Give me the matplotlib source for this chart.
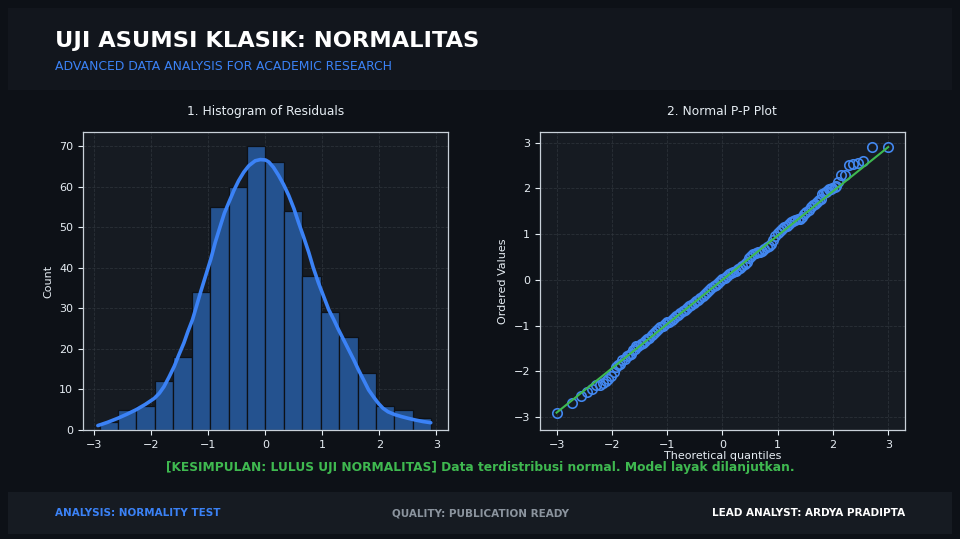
import numpy as np
import matplotlib

matplotlib.use("Agg")
import matplotlib.pyplot as plt
from matplotlib.patches import Rectangle

# histogram of residuals (counts per bin)
hist_counts = [2, 5, 6, 12, 18, 34, 55, 60, 70, 66, 54, 38, 29, 23, 14, 6, 5, 3]
resid_min = -2.91
resid_max = 2.91

# KDE curve (x, count scale)
kde_x = [-2.94, -2.77, -2.59, -2.43, -2.27, -2.11, -1.95, -1.86, -1.78, -1.69, -1.60,
         -1.52, -1.43, -1.36, -1.28, -1.20, -1.14, -1.05, -0.96, -0.88, -0.79, -0.72,
         -0.64, -0.55, -0.47, -0.38, -0.29, -0.18, -0.09, 0.00, 0.06, 0.14, 0.23, 0.32,
         0.41, 0.50, 0.58, 0.67, 0.76, 0.84, 0.93, 1.02, 1.11, 1.20, 1.28, 1.37, 1.46,
         1.55, 1.63, 1.72, 1.81, 1.90, 1.98, 2.06, 2.15, 2.27, 2.39, 2.50, 2.62, 2.76, 2.90]
kde_y = [1.1, 1.9, 2.9, 3.9, 5.0, 6.3, 7.8, 9.1, 10.7, 13.1, 15.7,
         18.5, 21.5, 24.3, 27.2, 31.0, 33.9, 38.0, 42.1, 46.3, 50.4, 53.5,
         56.2, 59.2, 61.5, 63.6, 65.2, 66.4, 66.7, 66.6, 66.1, 64.8, 62.8, 60.5,
         57.8, 54.6, 51.2, 47.6, 43.8, 40.0, 36.3, 33.0, 29.7, 27.2, 24.8, 22.3, 19.8,
         17.3, 14.9, 12.4, 9.9, 8.1, 6.6, 5.4, 4.5, 3.8, 3.3, 2.9, 2.5, 2.1, 1.8]

# probability plot points: theoretical quantiles vs ordered residuals
pp_theoretical = [
    -3.00, -2.72, -2.56, -2.45, -2.36, -2.29, -2.22, -2.16, -2.11, -2.07, -2.02, -1.97,
    -1.93, -1.89, -1.85, -1.81, -1.77, -1.73, -1.69, -1.66, -1.62, -1.59, -1.56, -1.53,
    -1.48, -1.44, -1.40, -1.36, -1.32, -1.28, -1.24, -1.20, -1.16, -1.12, -1.08, -1.04,
    -1.00, -0.96, -0.92, -0.88, -0.84, -0.80, -0.76, -0.72, -0.68, -0.64, -0.60, -0.56,
    -0.52, -0.48, -0.44, -0.40, -0.36, -0.32, -0.28, -0.24, -0.20, -0.16, -0.12, -0.08,
    -0.04, 0.00, 0.04, 0.08, 0.12, 0.16, 0.20, 0.24, 0.28, 0.32, 0.36, 0.40,
    0.44, 0.48, 0.52, 0.56, 0.60, 0.64, 0.68, 0.72, 0.76, 0.80, 0.84, 0.88,
    0.92, 0.96, 1.00, 1.04, 1.08, 1.12, 1.16, 1.20, 1.24, 1.28, 1.32, 1.36,
    1.40, 1.44, 1.48, 1.52, 1.56, 1.60, 1.64, 1.68, 1.72, 1.75, 1.78, 1.81,
    1.84, 1.87, 1.90, 1.93, 1.96, 1.99, 2.03, 2.06, 2.10, 2.15, 2.22, 2.29,
    2.37, 2.45, 2.55, 2.71, 3.00,
]
pp_ordered = [
    -2.90, -2.68, -2.54, -2.44, -2.39, -2.29, -2.30, -2.26, -2.22, -2.17, -2.10, -2.02,
    -1.90, -1.87, -1.83, -1.76, -1.72, -1.66, -1.64, -1.62, -1.53, -1.50, -1.45, -1.45,
    -1.41, -1.37, -1.33, -1.30, -1.26, -1.20, -1.16, -1.12, -1.08, -1.04, -1.00, -0.97,
    -0.93, -0.92, -0.88, -0.84, -0.80, -0.76, -0.72, -0.69, -0.65, -0.61, -0.58, -0.54,
    -0.50, -0.46, -0.43, -0.39, -0.35, -0.31, -0.27, -0.23, -0.18, -0.14, -0.11, -0.07,
    -0.03, 0.01, 0.05, 0.09, 0.13, 0.16, 0.17, 0.19, 0.23, 0.27, 0.31, 0.35,
    0.40, 0.48, 0.52, 0.56, 0.59, 0.61, 0.61, 0.64, 0.68, 0.71, 0.75, 0.79,
    0.86, 0.95, 1.03, 1.07, 1.11, 1.15, 1.18, 1.22, 1.26, 1.29, 1.31, 1.32,
    1.34, 1.37, 1.44, 1.48, 1.53, 1.59, 1.63, 1.66, 1.70, 1.74, 1.77, 1.87,
    1.89, 1.92, 1.95, 1.98, 1.99, 2.00, 2.02, 2.05, 2.14, 2.28, 2.30, 2.50,
    2.53, 2.56, 2.59, 2.91, 2.90,
]
fit_slope = 0.967
fit_intercept = 0.0

BG = "#0d1117"
PANEL = "#161b22"
BAND = "#12161d"
BLUE = "#3b82f6"
GREEN = "#3fb950"
TEXT = "#e6edf3"
GRID = "#30363d"

fig = plt.figure(figsize=(9.6, 5.39), dpi=100, facecolor=BG)

# header and footer bands
fig.add_artist(Rectangle((0.0083, 0.833), 0.983, 0.152, transform=fig.transFigure,
                         facecolor=BAND, edgecolor="none", zorder=0))
fig.add_artist(Rectangle((0.0083, 0.0093), 0.983, 0.078, transform=fig.transFigure,
                         facecolor=PANEL, edgecolor="none", zorder=0))

fig.text(0.0573, 0.924, "UJI ASUMSI KLASIK: NORMALITAS", color="white", fontsize=16.2,
         fontweight="bold", va="center", ha="left")
fig.text(0.0573, 0.876, "ADVANCED DATA ANALYSIS FOR ACADEMIC RESEARCH", color=BLUE,
         fontsize=8.9, va="center", ha="left")


def style_axes(ax):
    ax.set_facecolor(PANEL)
    for spine in ax.spines.values():
        spine.set_color("#c9d1d9")
        spine.set_linewidth(0.9)
    ax.tick_params(colors=TEXT, labelsize=8, length=3.5)
    ax.grid(True, color=GRID, linestyle="--", linewidth=0.6, alpha=0.8)
    ax.set_axisbelow(True)


# 1. histogram
ax1 = fig.add_axes([0.0865, 0.2022, 0.380, 0.5529])
style_axes(ax1)
edges = np.linspace(resid_min, resid_max, len(hist_counts) + 1)
ax1.bar(edges[:-1], hist_counts, width=np.diff(edges), align="edge",
        color="#24528f", edgecolor=BG, linewidth=0.9, zorder=2)
ax1.plot(kde_x, kde_y, color=BLUE, linewidth=2.6, solid_capstyle="round",
         solid_joinstyle="round", zorder=3)
ax1.set_xlim(-3.2, 3.2)
ax1.set_ylim(0, 73.5)
ax1.set_xticks([-3, -2, -1, 0, 1, 2, 3])
ax1.set_yticks([0, 10, 20, 30, 40, 50, 60, 70])
ax1.set_ylabel("Count", color=TEXT, fontsize=8)
ax1.set_title("1. Histogram of Residuals", color=TEXT, fontsize=8.8, pad=12)

# 2. normal probability plot
ax2 = fig.add_axes([0.5625, 0.2022, 0.380, 0.5529])
style_axes(ax2)
ax2.plot(pp_theoretical, pp_ordered, linestyle="none", marker="o", markersize=6.8,
         markerfacecolor="none", markeredgecolor="#4287ee", markeredgewidth=1.2, zorder=2)
line_x = np.array([min(pp_theoretical), max(pp_theoretical)])
ax2.plot(line_x, fit_slope * line_x + fit_intercept, color=GREEN, linewidth=1.5, zorder=3)
ax2.set_xlim(-3.3, 3.3)
ax2.set_ylim(-3.28, 3.23)
ax2.set_xticks([-3, -2, -1, 0, 1, 2, 3])
ax2.set_yticks([-3, -2, -1, 0, 1, 2, 3])
ax2.set_xlabel("Theoretical quantiles", color=TEXT, fontsize=8, labelpad=1)
ax2.set_ylabel("Ordered Values", color=TEXT, fontsize=8)
ax2.set_title("2. Normal P-P Plot", color=TEXT, fontsize=8.8, pad=12)

fig.text(0.5, 0.133, "[KESIMPULAN: LULUS UJI NORMALITAS] Data terdistribusi normal. Model layak dilanjutkan.",
         color=GREEN, fontsize=8.85, fontweight="bold", ha="center", va="center")

fig.text(0.0573, 0.048, "ANALYSIS: NORMALITY TEST", color=BLUE, fontsize=7.5,
         fontweight="bold", ha="left", va="center")
fig.text(0.5, 0.048, "QUALITY: PUBLICATION READY", color="#8b949e", fontsize=7.5,
         fontweight="bold", ha="center", va="center")
fig.text(0.943, 0.048, "LEAD ANALYST: ARDYA PRADIPTA", color="white", fontsize=7.5,
         fontweight="bold", ha="right", va="center")

fig.savefig("out.png", dpi=100, facecolor=BG)
